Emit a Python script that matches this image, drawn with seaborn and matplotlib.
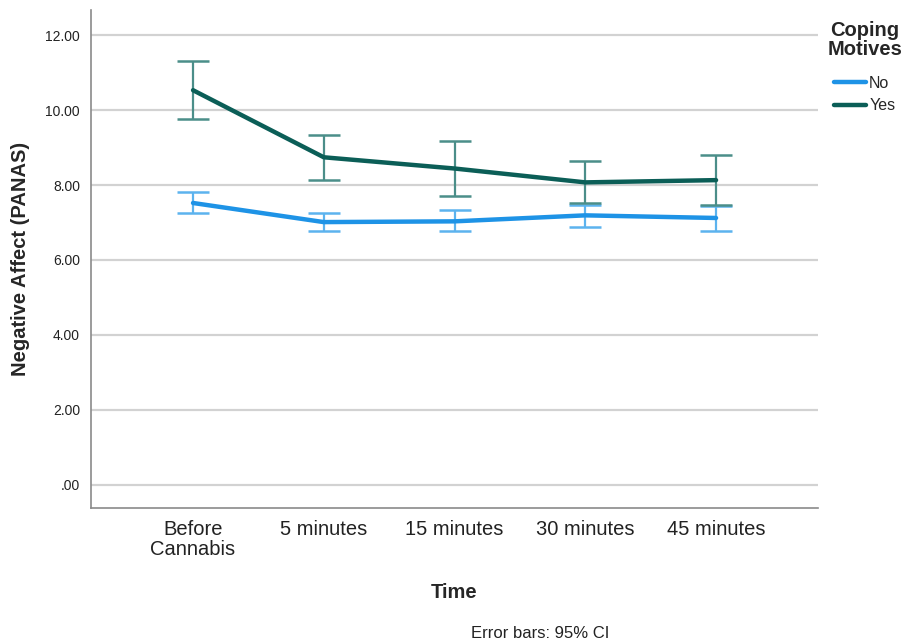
import matplotlib
matplotlib.use("Agg")
import matplotlib.pyplot as plt
import seaborn as sns
import pandas as pd
from matplotlib.lines import Line2D

# Measurements: mean negative affect with 95% CI, by time point and coping motives
times = ["Before\nCannabis", "5 minutes", "15 minutes", "30 minutes", "45 minutes"]

no_mean = [7.52, 7.01, 7.03, 7.19, 7.12]
no_lower = [7.25, 6.78, 6.76, 6.89, 6.76]
no_upper = [7.81, 7.24, 7.33, 7.47, 7.44]

yes_mean = [10.53, 8.74, 8.44, 8.07, 8.13]
yes_lower = [9.76, 8.14, 7.70, 7.51, 7.46]
yes_upper = [11.31, 9.33, 9.17, 8.64, 8.80]

groups = ["No", "Yes"]
line_colors = {"No": "#1E93E6", "Yes": "#0B5E57"}
bar_colors = {"No": "#5CB3EE", "Yes": "#4B8E89"}

sns.set_theme(style="white")
plt.rcParams["font.family"] = ["Liberation Sans", "DejaVu Sans"]

df = pd.DataFrame({
    "Time": list(range(len(times))) * 2,
    "Affect": no_mean + yes_mean,
    "Coping": ["No"] * len(times) + ["Yes"] * len(times),
    "lo": no_lower + yes_lower,
    "hi": no_upper + yes_upper,
})

fig = plt.figure(figsize=(9.05, 6.43), dpi=100)
ax = fig.add_axes([0.1006, 0.21, 0.8033, 0.7744])

ax.set_ylim(-0.62, 12.67)
ax.set_xlim(-0.78, 4.78)
ax.set_yticks(range(0, 13, 2))
ax.set_yticklabels([".00"] + [f"{v}.00" for v in range(2, 13, 2)])
ax.yaxis.grid(True, color="#D2D2D2", linewidth=1.6)
ax.set_axisbelow(True)

# Error bars first so the mean lines sit on top
for g in groups:
    sub = df[df["Coping"] == g]
    ax.errorbar(sub["Time"], sub["Affect"],
                yerr=[sub["Affect"] - sub["lo"], sub["hi"] - sub["Affect"]],
                fmt="none", ecolor=bar_colors[g], elinewidth=1.6,
                capsize=11.5, capthick=1.8, zorder=2)

sns.lineplot(data=df, x="Time", y="Affect", hue="Coping",
             palette=line_colors, linewidth=3.2, legend=False,
             ax=ax, zorder=3)

ax.set_xticks(range(len(times)))
ax.set_xticklabels(times, fontsize=14.5, color="#222222", linespacing=1.05)
ax.tick_params(axis="y", labelsize=10, colors="#222222", length=0, pad=8)
ax.tick_params(axis="x", length=0, pad=9)

for side in ["top", "right"]:
    ax.spines[side].set_visible(False)
for side in ["left", "bottom"]:
    ax.spines[side].set_color("#8A8A8A")
    ax.spines[side].set_linewidth(1.2)

ax.set_xlabel("Time", fontsize=14.5, fontweight="bold", labelpad=17)
ax.set_ylabel("Negative Affect (PANAS)", fontsize=14.5, fontweight="bold", labelpad=11)

handles = [Line2D([0], [0], color=line_colors[g], linewidth=3.2) for g in groups]
leg = fig.legend(handles, groups, title="Coping\nMotives",
                 loc="upper left", bbox_to_anchor=(0.914, 0.968),
                 frameon=False, fontsize=11.5, handlelength=2.0,
                 handletextpad=0.2, labelspacing=0.45, borderaxespad=0,
                 borderpad=0)
leg.get_title().set_fontweight("bold")
leg.get_title().set_fontsize(14.5)
leg.get_title().set_linespacing(1.05)
leg.get_title().set_multialignment("center")
leg._legend_box.sep = 12

fig.text(0.597, 0.003, "Error bars: 95% CI", fontsize=12,
         ha="center", va="bottom", color="#222222")

fig.savefig("out.png", dpi=100)
